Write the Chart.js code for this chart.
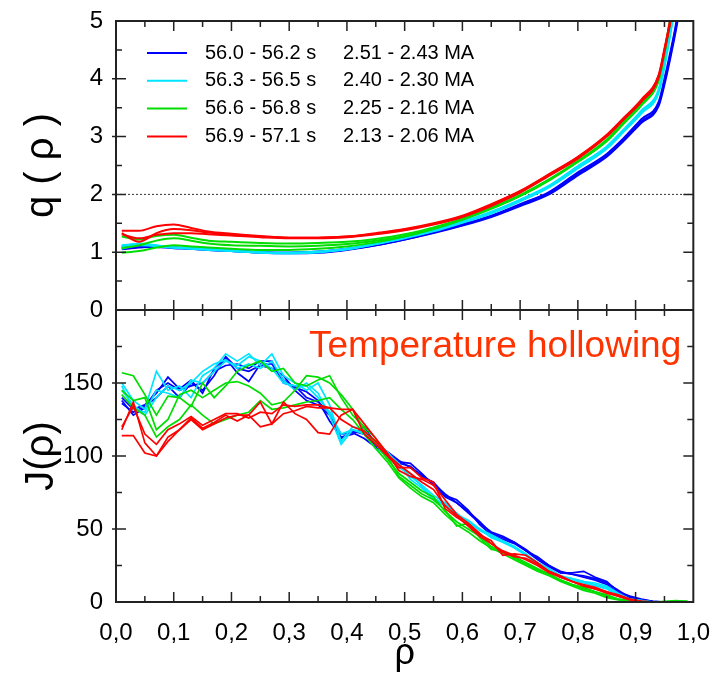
<!DOCTYPE html>
<html>
<head>
<meta charset="utf-8">
<title>q and J profiles</title>
<script src="https://cdn.jsdelivr.net/npm/chart.js@4.4.1/dist/chart.umd.min.js"></script>
<style>
  html, body { margin: 0; padding: 0; background: #fff; }
  #wrap { width: 719px; height: 676px; }
</style>
</head>
<body>
<div id="wrap"><canvas id="profileChart" width="719" height="676"></canvas></div>
<script>
// ---- data ----
const seriesTimes = ['56.0 - 56.2 s', '56.3 - 56.5 s', '56.6 - 56.8 s', '56.9 - 57.1 s'];
const seriesCurrents = ['2.51 - 2.43 MA', '2.40 - 2.30 MA', '2.25 - 2.16 MA', '2.13 - 2.06 MA'];
const annotationText = 'Temperature hollowing';
const qReference = 2;

const qRho = [0.01, 0.04, 0.07, 0.10, 0.13, 0.16, 0.20, 0.25, 0.30, 0.35, 0.40, 0.45, 0.50, 0.55,
              0.60, 0.65, 0.70, 0.75, 0.80, 0.85, 0.88, 0.91, 0.94, 0.95, 0.96, 0.97, 0.98];

const qBlue = [
  [1.10,1.12,1.10,1.08,1.07,1.05,1.03,1.00,0.99,1.01,1.06,1.13,1.23,1.35,1.48,1.63,1.83,2.04,2.38,2.70,2.98,3.30,3.60,4.00,4.45,4.95,5.60],
  [1.08,1.10,1.09,1.07,1.06,1.04,1.02,1.00,0.99,1.00,1.05,1.12,1.22,1.34,1.47,1.62,1.81,2.02,2.35,2.67,2.95,3.26,3.56,3.95,4.40,4.90,5.50],
  [1.05,1.08,1.10,1.08,1.06,1.04,1.02,0.99,0.98,0.99,1.04,1.12,1.22,1.33,1.46,1.61,1.80,2.00,2.33,2.65,2.93,3.24,3.53,3.90,4.35,4.85,5.45]
];
const qCyan = [
  [1.12,1.14,1.10,1.08,1.07,1.05,1.03,1.00,0.99,1.01,1.06,1.15,1.26,1.38,1.53,1.70,1.91,2.15,2.49,2.83,3.13,3.45,3.82,4.28,4.85,5.45,6.05],
  [1.06,1.12,1.11,1.08,1.07,1.05,1.02,1.00,0.98,1.00,1.05,1.14,1.25,1.37,1.52,1.69,1.90,2.14,2.48,2.82,3.12,3.43,3.80,4.25,4.80,5.40,6.00],
  [1.10,1.15,1.12,1.08,1.06,1.04,1.02,0.99,0.98,1.00,1.05,1.14,1.24,1.36,1.51,1.67,1.88,2.12,2.45,2.79,3.09,3.40,3.76,4.20,4.75,5.35,5.95]
];
const qGreen = [
  [0.99,1.02,1.08,1.12,1.10,1.08,1.06,1.04,1.04,1.06,1.10,1.17,1.27,1.40,1.56,1.75,1.97,2.24,2.56,2.92,3.23,3.54,3.97,4.43,4.98,5.58,6.20],
  [1.07,1.12,1.20,1.24,1.20,1.15,1.12,1.11,1.10,1.11,1.14,1.20,1.28,1.41,1.57,1.76,1.98,2.25,2.57,2.93,3.24,3.55,3.98,4.45,5.00,5.60,6.20],
  [1.27,1.22,1.28,1.30,1.25,1.20,1.18,1.16,1.15,1.16,1.18,1.23,1.31,1.43,1.58,1.77,1.99,2.26,2.58,2.95,3.26,3.57,4.00,4.48,5.05,5.65,6.30]
];
const qRed = [
  [1.37,1.37,1.45,1.48,1.42,1.36,1.32,1.28,1.25,1.25,1.27,1.33,1.40,1.50,1.63,1.83,2.06,2.35,2.65,3.03,3.33,3.64,4.07,4.52,5.02,5.62,6.30],
  [1.33,1.18,1.33,1.40,1.38,1.34,1.30,1.27,1.25,1.25,1.27,1.32,1.39,1.49,1.62,1.82,2.05,2.34,2.64,3.02,3.32,3.62,4.05,4.50,5.00,5.60,6.30],
  [1.31,1.24,1.30,1.33,1.33,1.31,1.29,1.26,1.24,1.24,1.26,1.31,1.38,1.48,1.61,1.80,2.03,2.32,2.62,3.00,3.30,3.60,4.02,4.47,4.97,5.57,6.25]
];

const jRho = [0.01, 0.03, 0.05, 0.07, 0.09, 0.11, 0.13, 0.15, 0.17, 0.19,
              0.21, 0.23, 0.25, 0.27, 0.29, 0.31, 0.33, 0.35, 0.37, 0.39,
              0.41, 0.43, 0.45, 0.47, 0.49, 0.51, 0.53, 0.55, 0.57, 0.59,
              0.61, 0.63, 0.65, 0.67, 0.69, 0.71, 0.73, 0.75, 0.77, 0.79,
              0.81, 0.83, 0.85, 0.87, 0.89, 0.91, 0.93, 0.95, 0.97, 0.99];

const jBlue = [
  [140,132,135,143,154,146,152,143,160,167,157,151,163,163,152,147,144,138,124,113,115,120,108,102,96,95,88,80,72,68,62,55,47,44,41,36,30,25,20,20,21,17,14,7,4,2,0.5,0,0,0],
  [136,130,134,140,148,140,150,145,155,168,160,158,162,160,155,145,138,135,128,115,116,112,106,101,95,93,86,82,73,70,63,53,46,43,40,35,29,24,20,19,18,16,13,8,3,1.5,0.5,0,0,0],
  [138,128,133,145,150,145,148,150,158,162,163,160,165,165,150,148,140,137,130,112,117,115,107,103,97,92,87,81,74,68,61,54,48,45,41,35,31,25,21,19,17,15,12,6,3.5,1,0,0,0,0]
];
const jCyan = [
  [150,138,132,158,145,148,140,155,160,170,165,170,162,170,155,150,145,150,135,110,120,118,108,103,93,86,80,73,68,60,56,50,46,42,38,33,27,23,18,16,14,12,10,5,2,1,0,0,0,0],
  [148,132,130,145,143,140,152,150,158,165,162,168,165,160,150,148,148,140,130,115,118,116,110,102,95,84,78,70,66,59,55,49,45,41,37,32,27,22,18,15,13,11,9,4,1.5,0.5,0,0,0,0],
  [145,135,128,140,148,145,150,158,163,166,160,163,160,165,152,145,150,143,128,108,118,115,105,100,92,88,79,71,67,61,54,50,44,41,38,32,26,22,17,16,14,13,11,6,2,1,0,0,0,0]
];
const jGreen = [
  [157,155,142,128,141,140,134,150,140,148,158,162,165,158,160,150,148,152,155,140,128,120,112,100,86,80,74,70,63,52,54,44,36,35,30,26,22,19,15,12,9,7,4,2,1,0,0,0.5,1,0.5],
  [145,138,140,118,125,142,145,140,145,150,151,148,143,135,137,145,155,154,150,142,132,118,108,98,88,82,76,72,62,55,50,45,38,34,31,27,23,19,15,12,10,7,5,2,0.5,0,0,0,0.5,0.5],
  [142,133,128,113,120,125,135,128,122,125,128,130,138,132,133,135,137,138,140,132,125,115,105,96,85,78,72,68,60,53,48,42,37,33,29,25,21,18,14,11,8,6,3,1.5,0.5,0,0,0,0.5,0]
];
const jRed = [
  [118,137,109,100,110,118,126,119,123,128,124,128,137,122,137,129,125,116,115,128,132,115,108,100,92,92,85,82,64,58,53,46,42,32,33,32,27,21,18,14,12,10,7,5,2,0.5,0,0,0,0],
  [114,114,102,100,113,118,125,118,122,126,128,128,120,122,129,131,134,133,133,132,132,122,112,102,90,86,84,80,70,60,54,47,40,34,31,30,26,21,17,14,11,9,7,4,2,0.5,0,0,0,0],
  [120,134,115,108,118,122,127,121,125,129,129,126,130,129,135,134,135,135,133,125,120,117,110,101,94,88,82,77,66,59,52,45,40,35,32,29,25,20,17,14,11,9,6,4,1.5,0.5,0,0,0,0]
];

// ---- styles ----
const seriesColors = ['#0000ff', '#00e5ff', '#00dd00', '#ff0000'];
const FONT = "'Liberation Sans', Arial, sans-serif";
const FRAME = '#222';

function profiles(rho, sets, color, axisId, order, smooth) {
    return sets.map(vals => ({
        data: vals.map((v, i) => ({x: rho[i], y: v})),
        yAxisID: axisId,
        borderColor: color,
        borderWidth: smooth ? 2 : 1.7,
        pointRadius: 0,
        fill: false,
        order: order,
        tension: 0,
        cubicInterpolationMode: smooth ? 'monotone' : 'default'
    }));
}

const qSets = [qBlue, qCyan, qGreen, qRed];
const jSets = [jBlue, jCyan, jGreen, jRed];
const datasets = [];
qSets.forEach((s, k) => datasets.push(...profiles(qRho, s, seriesColors[k], 'yq', 3 - k, true)));
jSets.forEach((s, k) => datasets.push(...profiles(jRho, s, seriesColors[k], 'yJ', 3 - k, false)));
datasets.push({
    data: [{x: 0, y: qReference}, {x: 1, y: qReference}],
    yAxisID: 'yq',
    borderColor: '#333',
    borderWidth: 1,
    borderDash: [2, 2],
    pointRadius: 0,
    order: 10
});

/**
 * Box frame, inward ticks, legend and annotation
 */
const framePlugin = {
    id: 'frame',
    afterDatasetsDraw(chart) {
        const {ctx, chartArea: a, scales} = chart;
        const x = scales.x, yq = scales.yq, yJ = scales.yJ;
        ctx.save();
        ctx.strokeStyle = FRAME;
        ctx.lineWidth = 2;
        ctx.strokeRect(a.left, a.top, a.right - a.left, a.bottom - a.top);
        ctx.beginPath();
        ctx.moveTo(a.left, yq.bottom);
        ctx.lineTo(a.right, yq.bottom);
        ctx.stroke();

        ctx.lineWidth = 1.5;
        ctx.beginPath();
        [yq, yJ].forEach(ys => {
            for (let i = 1; i < 20; i++) {
                const px = x.getPixelForValue(i * 0.05);
                const len = i % 2 === 0 ? 10 : 6;
                ctx.moveTo(px, ys.top); ctx.lineTo(px, ys.top + len);
                ctx.moveTo(px, ys.bottom); ctx.lineTo(px, ys.bottom - len);
            }
        });
        const panelTicks = [[yq, 0.5, 1], [yJ, 25, 50]];
        panelTicks.forEach(([ys, minor, major]) => {
            for (let v = minor; v < ys.max - 1e-9; v += minor) {
                const py = ys.getPixelForValue(v);
                const isMajor = Math.abs(v / major - Math.round(v / major)) < 1e-6;
                const len = isMajor ? 10 : 6;
                ctx.moveTo(a.left - (isMajor ? 4 : 0), py); ctx.lineTo(a.left + len, py);
                ctx.moveTo(a.right - len, py); ctx.lineTo(a.right, py);
            }
        });
        ctx.stroke();

        // legend inside the q panel
        ctx.font = '20px ' + FONT;
        ctx.textBaseline = 'middle';
        ctx.textAlign = 'left';
        seriesTimes.forEach((t, i) => {
            const y = a.top + 32 + i * 27.8;
            ctx.strokeStyle = seriesColors[i];
            ctx.lineWidth = 2;
            ctx.beginPath();
            ctx.moveTo(a.left + 31, y);
            ctx.lineTo(a.left + 71, y);
            ctx.stroke();
            ctx.fillStyle = '#000';
            ctx.fillText(t, a.left + 89, y);
            ctx.fillText(seriesCurrents[i], a.left + 227, y);
        });

        // annotation in the J panel
        ctx.font = '37px ' + FONT;
        ctx.fillStyle = '#ff3300';
        ctx.fillText(annotationText, a.left + 193, yJ.top + 37);
        ctx.restore();
    }
};

const tickFont = {family: FONT, size: 24};

new Chart(document.getElementById('profileChart'), {
    type: 'line',
    data: {datasets: datasets},
    options: {
        responsive: false,
        animation: false,
        devicePixelRatio: 1,
        layout: {padding: {top: 21, right: 24, left: 0, bottom: 0}},
        plugins: {
            legend: {display: false},
            tooltip: {enabled: false}
        },
        scales: {
            x: {
                type: 'linear',
                position: 'bottom',
                min: 0,
                max: 1,
                grid: {display: false},
                border: {display: false},
                ticks: {
                    stepSize: 0.1,
                    font: tickFont,
                    color: '#000',
                    padding: 9,
                    maxRotation: 0,
                    callback: v => v.toFixed(1).replace('.', ',')
                },
                title: {
                    display: true,
                    text: 'ρ',
                    color: '#000',
                    font: {family: FONT, size: 36},
                    padding: {top: 0, bottom: 0}
                },
                afterFit: s => { s.height = 74; }
            },
            yq: {
                type: 'linear',
                position: 'left',
                stack: 'panels',
                stackWeight: 289,
                weight: 2,
                min: 0,
                max: 5,
                grid: {display: false},
                border: {display: false},
                ticks: {stepSize: 1, font: tickFont, color: '#000', padding: 5},
                title: {
                    display: true,
                    text: 'q ( ρ )',
                    color: '#000',
                    font: {family: FONT, size: 40},
                    padding: {top: 18, bottom: 0}
                },
                afterFit: s => { s.width = 116; }
            },
            yJ: {
                type: 'linear',
                position: 'left',
                stack: 'panels',
                stackWeight: 292,
                weight: 1,
                min: 0,
                max: 200,
                grid: {display: false},
                border: {display: false},
                ticks: {
                    stepSize: 50,
                    font: tickFont,
                    color: '#000',
                    padding: 5,
                    callback: v => (v >= 200 ? '' : String(v))
                },
                title: {
                    display: true,
                    text: 'J(ρ)',
                    color: '#000',
                    font: {family: FONT, size: 40},
                    padding: {top: 18, bottom: 0}
                },
                afterFit: s => { s.width = 116; }
            }
        }
    },
    plugins: [framePlugin]
});
</script>
</body>
</html>
